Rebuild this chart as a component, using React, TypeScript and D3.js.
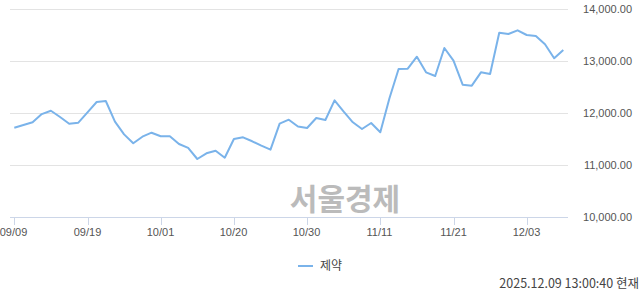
import React from "react";
import * as d3 from "d3";

const dates = [
  "09/09","09/10","09/11","09/12","09/15","09/16","09/17","09/18","09/19","09/22",
  "09/23","09/24","09/25","09/26","09/29","09/30","10/01","10/02","10/10","10/13",
  "10/14","10/15","10/16","10/17","10/20","10/21","10/22","10/23","10/24","10/27",
  "10/28","10/29","10/30","10/31","11/03","11/04","11/05","11/06","11/07","11/10",
  "11/11","11/12","11/13","11/14","11/17","11/18","11/19","11/20","11/21","11/24",
  "11/25","11/26","11/27","11/28","12/01","12/02","12/03","12/04","12/05","12/08","12/09",
];

const values = [
  11723, 11775, 11827, 11985, 12050, 11929, 11800, 11819, 12019, 12217,
  12237, 11839, 11595, 11423, 11550, 11627, 11558, 11558, 11410, 11335,
  11121, 11231, 11281, 11146, 11506, 11538, 11462, 11377, 11300, 11800,
  11877, 11745, 11717, 11910, 11871, 12250, 12031, 11827, 11698, 11813,
  11635, 12290, 12852, 12858, 13088, 12788, 12717, 13256, 13012, 12550,
  12531, 12788, 12756, 13550, 13525, 13596, 13506, 13487, 13327, 13058, 13217,
];

const tickDates = ["09/09", "09/19", "10/01", "10/20", "10/30", "11/11", "11/21", "12/03"];
const yTicks = [10000, 11000, 12000, 13000, 14000];
const seriesName = "제약";
const timestamp = "2025.12.09 13:00:40 현재";
const watermark = "서울경제";

export default function App() {
  const W = 640, H = 294;
  const plotL = 10, plotR = 568;
  const x = d3.scalePoint<string>().domain(dates).range([14.3, 563.3]);
  const y = d3.scaleLinear().domain([10000, 14000]).range([217.3, 9.3]);
  const line = d3
    .line<number>()
    .x((_, i) => x(dates[i]) as number)
    .y((d) => y(d));
  const fmt = d3.format(",.2f");
  const font = "'Liberation Sans', Arial, sans-serif";

  return (
    <svg
      width={W}
      height={H}
      style={{ position: "absolute", left: 0, top: 0, background: "#fff" }}
    >
      {yTicks.map((t) =>
        t === 10000 ? null : (
          <line key={t} x1={plotL} x2={plotR} y1={Math.round(y(t)) + 0.5} y2={Math.round(y(t)) + 0.5} stroke="#e3e3e3" strokeWidth={1} />
        )
      )}
      {yTicks.map((t) => (
        <text key={"l" + t} x={632} y={y(t)} dy="0.35em" textAnchor="end" fontFamily={font} fontSize={11} fill="#555">
          {fmt(t)}
        </text>
      ))}
      <text
        x={345}
        y={199}
        dy="0.35em"
        textAnchor="middle"
        fontFamily="'Noto Sans CJK KR', sans-serif"
        fontWeight="bold"
        fontSize={30}
        fill="#bbbbbb"
      >
        {watermark}
      </text>
      <line x1={plotL} x2={plotR} y1={217.5} y2={217.5} stroke="#ccd6e8" strokeWidth={1} />
      {tickDates.map((d) => {
        const px = Math.round(x(d) as number) + 0.5;
        return (
          <g key={d}>
            <line x1={px} x2={px} y1={217} y2={225} stroke="#ccd6e8" strokeWidth={1} />
            <text x={px - 1} y={232} dy="0.35em" textAnchor="middle" fontFamily={font} fontSize={11} fill="#555">
              {d}
            </text>
          </g>
        );
      })}
      <path d={line(values) || ""} fill="none" stroke="#7ab3ea" strokeWidth={2} strokeLinejoin="round" />
      <line x1={298} x2={313} y1={266} y2={266} stroke="#7ab3ea" strokeWidth={2} />
      <text x={320} y={266} dy="0.35em" fontFamily="'Noto Sans CJK KR', sans-serif" fontSize={12} fill="#444">
        {seriesName}
      </text>
      <text x={639} y={283.5} dy="0.35em" textAnchor="end" fontFamily="'Noto Sans CJK KR', sans-serif" fontSize={12.5} fill="#444">
        {timestamp}
      </text>
    </svg>
  );
}
